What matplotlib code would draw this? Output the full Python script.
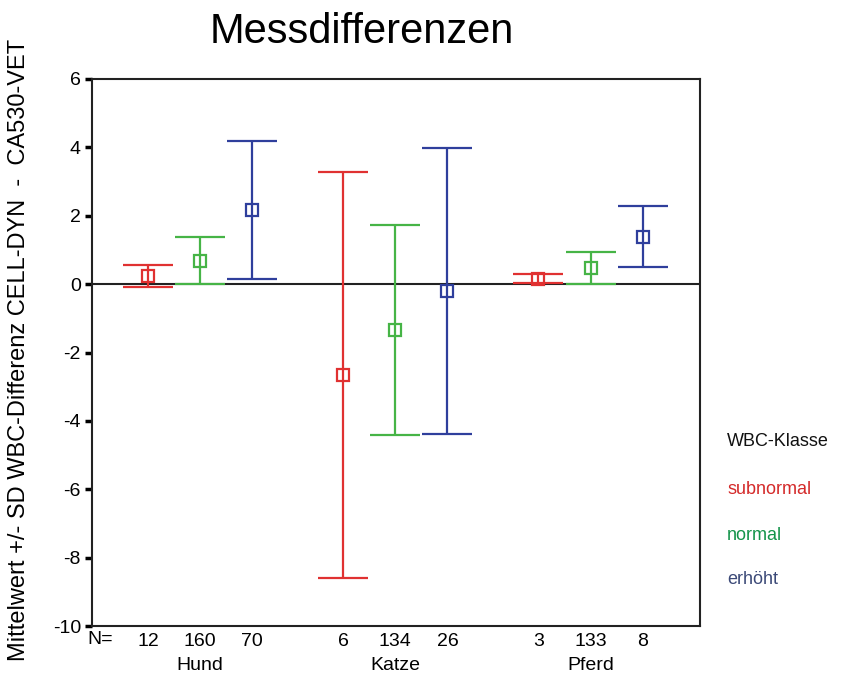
import matplotlib
import matplotlib.pyplot as plt
import matplotlib.transforms as mtransforms

matplotlib.use('Agg')

# data
groups = ['Hund', 'Katze', 'Pferd']
classes = ['subnormal', 'normal', 'erhöht']
means_subnormal = [0.25, -2.66, 0.16]
sd_subnormal = [0.32, 5.95, 0.13]
means_normal = [0.69, -1.35, 0.47]
sd_normal = [0.68, 3.07, 0.47]
means_erhoeht = [2.16, -0.21, 1.39]
sd_erhoeht = [2.02, 4.18, 0.89]
n_subnormal = [12, 6, 3]
n_normal = [160, 134, 133]
n_erhoeht = [70, 26, 8]


def main() -> None:
    plt.rcParams['font.family'] = ['Liberation Sans', 'DejaVu Sans']
    plt.rcParams['axes.unicode_minus'] = False

    fig = plt.figure(figsize=(8.44, 6.74), dpi=100)
    ax = fig.add_axes([0.109, 0.0712, 0.720, 0.8116])

    colors = ['#e03131', '#46b446', '#2f3f9c']
    text_colors = ['#d42a2a', '#14944a', '#3c4a78']
    series = [(means_subnormal, sd_subnormal, n_subnormal),
              (means_normal, sd_normal, n_normal),
              (means_erhoeht, sd_erhoeht, n_erhoeht)]
    offsets = [-0.267, 0.0, 0.267]
    centers = [1, 2, 3]

    ax.axhline(0, color='#222222', lw=1.5, zorder=1)

    tick_pos, tick_lab = [], []
    for (m, s, n), off, col in zip(series, offsets, colors):
        xs = [c + off for c in centers]
        ax.errorbar(xs, m, yerr=s, fmt='s', color=col, ecolor=col,
                    mfc='none', mec=col, ms=9, mew=1.6, elinewidth=1.6,
                    capsize=18, capthick=1.6, zorder=3)
        tick_pos += xs
        tick_lab += [str(v) for v in n]

    ax.set_xlim(0.446, 3.559)
    ax.set_ylim(-10, 6)
    ax.set_yticks(range(-10, 7, 2))
    ax.tick_params(axis='y', labelsize=14, length=5, width=2.5, direction='out', pad=3)

    ax.set_xticks(tick_pos)
    ax.set_xticklabels(tick_lab, fontsize=14)
    ax.tick_params(axis='x', length=0, pad=5)
    ax.set_xticks(centers, minor=True)
    ax.tick_params(axis='x', which='minor', length=3, width=2, direction='in')

    for sp in ax.spines.values():
        sp.set_linewidth(1.5)
        sp.set_color('#222222')

    fig.text(87 / 844, 1 - 640 / 674, 'N=', fontsize=14, ha='left', va='center')
    trans = mtransforms.blended_transform_factory(ax.transData, fig.transFigure)
    for c, g in zip(centers, groups):
        ax.text(c, 1 - 665 / 674, g, transform=trans, fontsize=14,
                ha='center', va='center')

    fig.text(362 / 844, 1 - 32 / 674, 'Messdifferenzen', fontsize=30,
             ha='center', va='center')
    fig.text(19 / 844, 1 - 350 / 674, 'Mittelwert +/- SD WBC-Differenz CELL-DYN  -  CA530-VET',
             rotation=90, fontsize=17, ha='center', va='center')

    fig.text(727 / 844, 1 - 441 / 674, 'WBC-Klasse', fontsize=13,
             ha='left', va='center', color='#111111')
    for i, (lab, col) in enumerate(zip(classes, text_colors)):
        fig.text(727 / 844, 1 - (490 + 45 * i) / 674, lab, fontsize=13,
                 ha='left', va='center', color=col)

    fig.savefig('out.png', dpi=100)


if __name__ == '__main__':
    main()
